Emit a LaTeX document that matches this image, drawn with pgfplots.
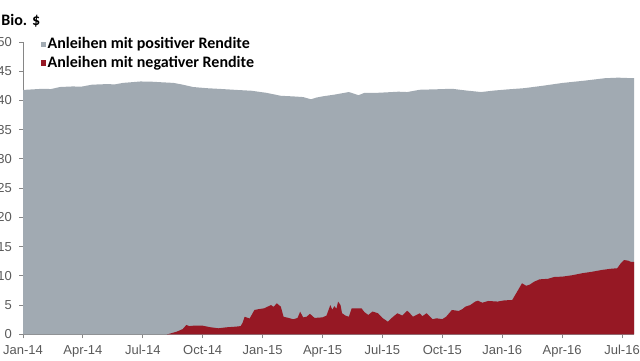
\documentclass[border=0pt]{standalone}
\usepackage{pgfplots}
\pgfplotsset{compat=1.18}
\usepackage{fontspec}
\setmainfont{Liberation Sans}
\newfontfamily\calib{Carlito}
\definecolor{posgray}{RGB}{161,170,178}
\definecolor{negred}{RGB}{150,24,36}
\definecolor{ticktext}{RGB}{89,89,89}
\definecolor{axisgray}{RGB}{134,134,134}
\pgfplotsset{sqlegend/.style={legend image code/.code={\fill[##1] (0pt,-1.3pt) rectangle (2.6pt,1.3pt);}}}
\begin{document}
\begin{tikzpicture}
\useasboundingbox (-11.5pt,-12.85pt) rectangle (308.5pt,167.15pt);
\begin{axis}[
  at={(0,0)}, anchor=south west,
  scale only axis, width=305.5pt, height=146.15pt,
  xmin=0, xmax=30.6, ymin=0, ymax=50,
  axis x line*=bottom, axis y line*=left,
  axis line style={draw=axisgray, line width=0.5pt},
  tick style={draw=axisgray, line width=0.5pt},
  tick align=outside, major tick length=2pt,
  xtick={0,3,...,30},
  xticklabels={Jan-14,Apr-14,Jul-14,Oct-14,Jan-15,Apr-15,Jul-15,Oct-15,Jan-16,Apr-16,Jul-16},
  ytick={0,5,...,50},
  tick label style={font=\fontsize{6.5}{7}\selectfont, text=ticktext},
  /pgf/number format/assume math mode=true,
  legend cell align=left,
  legend style={at={(axis description cs:0.028,1.023)}, anchor=north west,
    draw=none, fill=none, inner sep=0pt, row sep=0pt,
    font=\calib\bfseries\fontsize{8}{9}\selectfont,
    nodes={inner sep=1pt}},
]
\addplot[fill=posgray, draw=none, sqlegend]
coordinates {
(0,41.8)(0.5,41.9)(1,42.0)(1.4,41.95)(1.85,42.3)(2.5,42.4)(2.9,42.35)(3.46,42.7)(4.2,42.8)(4.6,42.75)(5,43.0)(5.89,43.25)(6.5,43.2)(7.0,43.1)(7.55,43.0)(8,42.7)(8.52,42.3)(9.2,42.1)(9.99,41.95)(10.7,41.8)(11.45,41.66)(12.2,41.3)(12.91,40.8)(13.5,40.7)(14.03,40.58)(14.42,40.2)(14.7,40.5)(15.0,40.7)(15.6,41.0)(16.32,41.44)(16.8,40.9)(17.1,41.3)(17.7,41.3)(18.27,41.4)(18.8,41.5)(19.24,41.44)(19.87,41.83)(20.6,41.9)(21.48,42.0)(22.2,41.7)(22.94,41.44)(23.6,41.7)(24.3,41.9)(25.09,42.1)(26.0,42.5)(27.03,43.0)(28.15,43.4)(29.13,43.8)(29.8,43.9)(30.6,43.8)
} \closedcycle;
\addlegendentry{Anleihen mit positiver Rendite}
\addplot[fill=negred, draw=none, sqlegend]
coordinates {
(7.2,0)(7.29,0.05)(7.7,0.45)(8.0,0.9)(8.18,1.6)(8.33,1.4)(8.6,1.5)(9.0,1.47)(9.4,1.2)(9.79,1.03)(10.2,1.2)(10.62,1.3)(10.9,1.4)(11.0,2.0)(11.1,3.0)(11.35,2.7)(11.59,4.16)(11.8,4.3)(12.08,4.45)(12.42,5.0)(12.55,4.7)(12.71,5.3)(12.91,4.73)(13.05,3.0)(13.3,2.8)(13.54,2.57)(13.75,2.8)(13.88,3.87)(14.03,2.9)(14.2,3.0)(14.37,3.5)(14.6,2.8)(15.0,2.9)(15.2,3.2)(15.39,5.0)(15.49,4.2)(15.59,4.8)(15.7,4.4)(15.78,5.6)(15.9,5.0)(15.98,3.6)(16.15,3.2)(16.32,3.0)(16.46,4.45)(16.95,4.45)(17.1,3.8)(17.29,3.3)(17.5,3.9)(17.78,3.6)(18.0,2.8)(18.27,2.16)(18.5,2.9)(18.75,3.6)(19.0,3.2)(19.24,4.04)(19.4,3.5)(19.53,3.0)(19.87,3.6)(20.0,3.1)(20.21,3.6)(20.51,2.57)(20.7,2.74)(21.0,2.6)(21.19,3.0)(21.48,4.16)(21.82,4.0)(22.0,4.3)(22.16,4.73)(22.4,5.0)(22.65,5.6)(22.79,5.75)(23.0,5.4)(23.3,5.7)(23.77,5.6)(24.1,5.8)(24.5,5.87)(24.65,6.73)(24.8,7.6)(24.99,8.73)(25.2,8.3)(25.38,8.5)(25.6,9.0)(25.87,9.4)(26.3,9.5)(26.6,9.8)(27.03,9.87)(27.5,10.1)(28.01,10.45)(28.5,10.7)(28.98,11.0)(29.4,11.2)(29.76,11.3)(29.95,12.2)(30.1,12.7)(30.3,12.6)(30.44,12.4)(30.6,12.4)
} \closedcycle;
\addlegendentry{Anleihen mit negativer Rendite}
\end{axis}
\node[anchor=west, inner sep=0pt, font=\calib\bfseries\fontsize{8}{9}\selectfont] at (-11pt,156.65pt) {Bio. \$};
\end{tikzpicture}
\end{document}
